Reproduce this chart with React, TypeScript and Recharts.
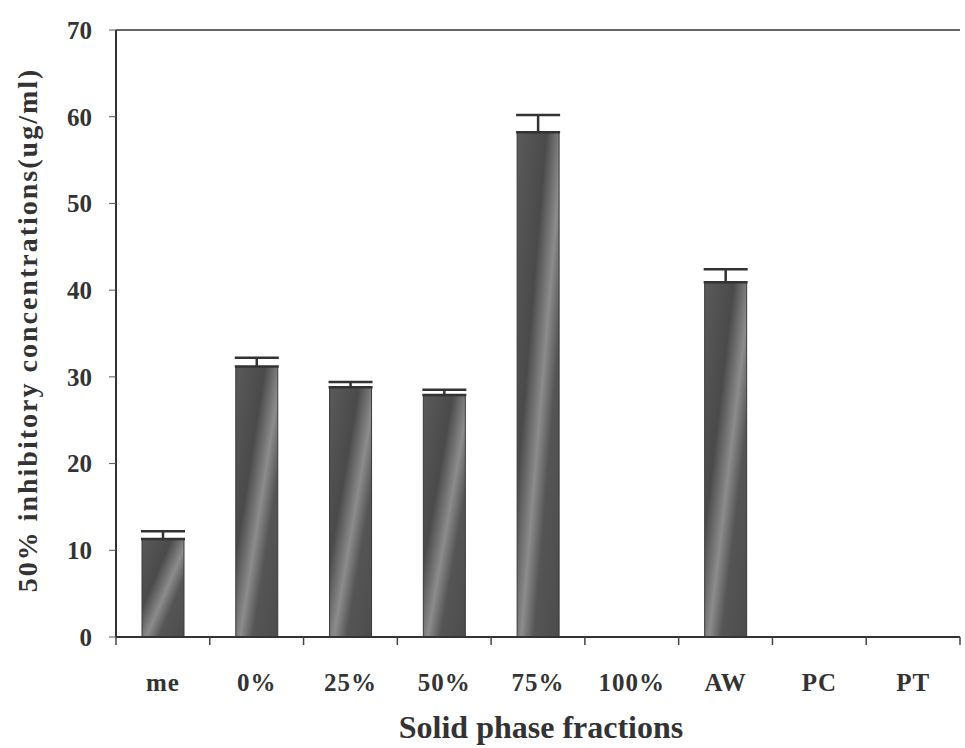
import { BarChart, Bar, XAxis, YAxis, ErrorBar, ReferenceLine } from "recharts";

const categories = ["me", "0%", "25%", "50%", "75%", "100%", "AW", "PC", "PT"];
const ic50 = [11.3, 31.2, 28.8, 27.9, 58.2, 0, 40.9, 0, 0];
const errUp = [0.9, 1.0, 0.6, 0.6, 2.0, 0, 1.5, 0, 0];
const yTicks = [0, 10, 20, 30, 40, 50, 60, 70];

const data = categories.map((name, i) => ({
   name,
   value: ic50[i],
   err: [0, errUp[i]],
}));

const W = 965;
const H = 748;
const LEFT = 116;
const RIGHT = 5;
const band = (W - LEFT - RIGHT) / categories.length;
const font = "'Liberation Serif', 'DejaVu Serif', serif";

const XTick = (props: any) => {
   const { x, y, payload, index } = props;
   const isLast = index === categories.length - 1;
   return (
      <g>
         <line x1={x - band / 2} y1={y - 8} x2={x - band / 2} y2={y} stroke="#444" strokeWidth={1.5} />
         {isLast && (
            <line x1={x + band / 2} y1={y - 8} x2={x + band / 2} y2={y} stroke="#444" strokeWidth={1.5} />
         )}
         <text
            x={x}
            y={y + 46}
            textAnchor="middle"
            fontFamily={font}
            fontWeight="bold"
            fontSize={25}
            letterSpacing={1}
            fill="#333"
         >
            {payload.value}
         </text>
      </g>
   );
};

export default function App() {
   return (
      <div style={{ width: W, height: H, background: "#fff", position: "relative" }}>
         <style>{`body{margin:0}`}</style>
         <BarChart
            width={W}
            height={H}
            data={data}
            margin={{ top: 30, right: RIGHT, left: 0, bottom: 0 }}
            barCategoryGap="0%"
         >
            <defs>
               <linearGradient id="barFill" x1="0" y1="0" x2="1" y2="1">
                  <stop offset="0%" stopColor="#5a5a5a" />
                  <stop offset="35%" stopColor="#4a4a4a" />
                  <stop offset="55%" stopColor="#8c8c8c" />
                  <stop offset="70%" stopColor="#555" />
                  <stop offset="100%" stopColor="#4c4c4c" />
               </linearGradient>
            </defs>
            <ReferenceLine y={70} stroke="#666" strokeWidth={2} />
            <XAxis
               dataKey="name"
               height={111}
               axisLine={{ stroke: "#333", strokeWidth: 2 }}
               tickLine={false}
               tick={<XTick />}
               interval={0}
            />
            <YAxis
               width={LEFT}
               domain={[0, 70]}
               ticks={yTicks}
               interval={0}
               axisLine={{ stroke: "#333", strokeWidth: 2 }}
               tickLine={{ stroke: "#555", strokeWidth: 1 }}
               tickSize={7}
               tickMargin={17}
               tick={{ fontFamily: font, fontWeight: "bold", fontSize: 25, fill: "#333" }}
            />
            <Bar
               dataKey="value"
               barSize={42}
               fill="url(#barFill)"
               stroke="#3a3a3a"
               strokeWidth={1}
               isAnimationActive={false}
            >
               <ErrorBar dataKey="err" direction="y" width={22} stroke="#333" strokeWidth={2.5} />
            </Bar>
         </BarChart>
         <svg
            width={W}
            height={H}
            style={{ position: "absolute", left: 0, top: 0, pointerEvents: "none" }}
         >
            <text
               transform="translate(37, 330) rotate(-90)"
               textAnchor="middle"
               fontFamily={font}
               fontWeight="bold"
               fontSize={28}
               letterSpacing={2}
               fill="#333"
            >
               50% inhibitory concentrations(ug/ml)
            </text>
            <text
               x={541}
               y={738}
               textAnchor="middle"
               fontFamily={font}
               fontWeight="bold"
               fontSize={32}
               fill="#333"
            >
               Solid phase fractions
            </text>
         </svg>
      </div>
   );
}
